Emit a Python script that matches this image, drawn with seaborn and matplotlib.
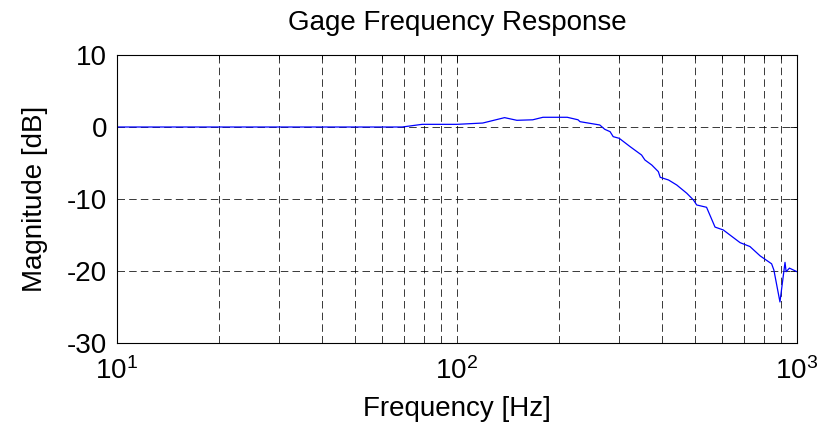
import matplotlib
matplotlib.use("Agg")
import matplotlib.pyplot as plt
import seaborn as sns
import pandas as pd
import numpy as np
from matplotlib.ticker import LogLocator, LogFormatterMathtext, NullFormatter

# Data
freq_hz = [10, 20, 40, 60, 69, 79, 90, 100, 119, 138, 150, 167, 179, 211, 227,
           230, 263, 272, 282, 288, 300, 323, 349, 357, 374, 391, 396, 419, 443,
           474, 496, 507, 542, 574, 607, 635, 680, 727, 779, 842, 855, 891, 922,
           929, 950, 1000]
mag_db = [0.0, 0.0, 0.0, 0.0, 0.0, 0.37, 0.37, 0.37, 0.55, 1.3, 0.93, 1.0, 1.35, 1.35, 1.0,
          0.74, 0.28, -0.32, -0.65, -1.34, -1.57, -2.73, -3.89, -4.58, -5.28, -6.2, -6.99, -7.36, -8.06,
          -9.2, -10.14, -10.83, -11.15, -13.9, -14.3, -15.0, -16.06, -16.6, -17.9, -19.0, -19.86, -24.3, -18.8,
          -20.1, -19.6, -20.1]
y_ticks = [-30, -20, -10, 0, 10]

title = "Gage Frequency Response"
x_label = "Frequency [Hz]"
y_label = "Magnitude [dB]"

sns.set_style("white")
plt.rcParams['font.family'] = ['Liberation Sans', 'DejaVu Sans']
plt.rcParams['axes.unicode_minus'] = False
plt.rcParams['mathtext.fontset'] = 'custom'
plt.rcParams['mathtext.rm'] = 'Liberation Sans'
plt.rcParams['mathtext.default'] = 'regular'
plt.rcParams['text.color'] = 'black'
plt.rcParams['axes.labelcolor'] = 'black'
plt.rcParams['xtick.color'] = 'black'
plt.rcParams['ytick.color'] = 'black'

df = pd.DataFrame({"freq": freq_hz, "mag": mag_db})

fig = plt.figure(figsize=(8.24, 4.34), dpi=100)
ax = fig.add_axes([117/824, (434-343)/434, (797-117)/824, (343-55)/434])

sns.lineplot(data=df, x="freq", y="mag", ax=ax, color=(0, 0, 1), linewidth=0.9, sort=False)

ax.set_xscale("log")
ax.set_xlim(10, 1000)
ax.set_ylim(-30, 10)
ax.set_yticks(y_ticks)
ax.xaxis.set_major_locator(LogLocator(base=10))
ax.xaxis.set_minor_locator(LogLocator(base=10, subs=np.arange(2, 10)))
ax.xaxis.set_minor_formatter(NullFormatter())
ax.xaxis.set_major_formatter(LogFormatterMathtext())

grid_kw = dict(color="black", linestyle=(0, (9, 5)), linewidth=0.6, alpha=0.9)
ax.grid(True, which="major", axis="both", **grid_kw)
ax.grid(True, which="minor", axis="x", **grid_kw)

for s in ax.spines.values():
    s.set_visible(True)
    s.set_color("black")
    s.set_linewidth(0.8)

ax.tick_params(which="both", direction="in", top=True, right=True, labelsize=20,
               colors="black", labelcolor="black")
ax.tick_params(axis="y", pad=7)
ax.tick_params(axis="x", pad=10)
ax.tick_params(which="major", length=5, width=0.6)
ax.tick_params(which="minor", length=3, width=0.6)

ax.set_title(title, fontsize=20, pad=18, color="black")
ax.set_xlabel(x_label, fontsize=20, labelpad=8, color="black")
ax.set_ylabel(y_label, fontsize=20, labelpad=14, color="black")

fig.savefig("out.png", dpi=100, facecolor="white")
